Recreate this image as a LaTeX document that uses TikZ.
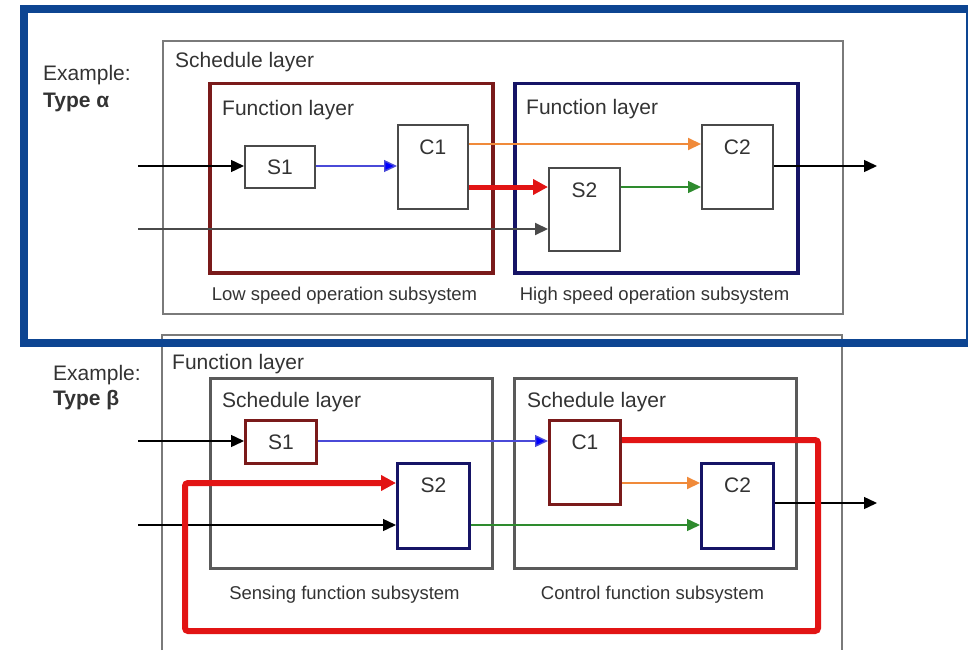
\documentclass[tikz,border=0pt]{standalone}
\usepackage{fontspec}
\setmainfont{Liberation Sans}
\usetikzlibrary{arrows.meta,calc}
\definecolor{frameblue}{HTML}{0D4592}
\definecolor{txtgray}{HTML}{333333}
\definecolor{layergray}{HTML}{7A7A7A}
\definecolor{innergray}{HTML}{5A5A5A}
\definecolor{boxgray}{HTML}{4A4A4A}
\definecolor{maroon}{HTML}{7A1A1A}
\definecolor{navy}{HTML}{161466}
\definecolor{sigred}{HTML}{E21414}
\definecolor{sigblue}{HTML}{4A4AD8}
\definecolor{sigorange}{HTML}{F08A3A}
\definecolor{siggreen}{HTML}{2E8B2E}
\definecolor{siggray}{HTML}{4A4A4A}
\begin{document}
\begin{tikzpicture}[x=1pt,y=-1pt,
  lbl/.style={inner sep=0, text=txtgray, font=\fontsize{21}{25}\selectfont},
  sublbl/.style={inner sep=0, text=txtgray, font=\fontsize{18.5}{22}\selectfont},
  layer/.style={draw=layergray, line width=2pt, inner sep=0, anchor=north west},
  inner layer/.style={draw=innergray, line width=2.5pt, inner sep=0, anchor=north west},
  blk/.style={draw=boxgray, line width=1.8pt, fill=white, inner sep=0, anchor=north west},
  sig/.style={-{Triangle[length=13pt,width=12pt]}, line width=1.4pt},
  bigsig/.style={-{Triangle[length=15pt,width=15pt]}, line width=5pt, draw=sigred}
]
\useasboundingbox (0,0) rectangle (968,650);

% ---------- Type alpha ----------
\node[layer, minimum width=680pt, minimum height=273pt] (aSched) at (162,40) {};
\node[lbl, anchor=base west] (aSchedT) at (175,68) {Schedule layer};
\node[lbl, anchor=base west] (aEx) at (43,81) {Example:};
\node[lbl, anchor=base west, font=\fontsize{21}{25}\selectfont\bfseries] (aType) at (43,107) {Type α};

\node[draw=maroon, line width=3.5pt, inner sep=0, anchor=north west,
      minimum width=283pt, minimum height=189pt] (aLow) at (208,82) {};
\node[draw=navy, line width=3.5pt, inner sep=0, anchor=north west,
      minimum width=283pt, minimum height=189pt] (aHigh) at (513,82) {};
\node[lbl, anchor=base west] (aLowT) at (222,115) {Function layer};
\node[lbl, anchor=base west] (aHighT) at (526,114) {Function layer};
\node[sublbl, anchor=base] (aLowSub) at (344.5,300) {Low speed operation subsystem};
\node[sublbl, anchor=base] (aHighSub) at (654.5,300) {High speed operation subsystem};

\node[blk, minimum width=70pt, minimum height=42pt] (aS1) at (244,145) {};
\node[lbl] (aS1t) at (aS1.center) {S1};
\node[blk, minimum width=70pt, minimum height=84pt] (aC1) at (397,124) {};
\node[lbl] (aC1t) at ($(aC1.north)+(0,23)$) {C1};
\node[blk, minimum width=71pt, minimum height=83pt] (aS2) at (548,167) {};
\node[lbl] (aS2t) at ($(aS2.north)+(0,23)$) {S2};
\node[blk, minimum width=71pt, minimum height=84pt] (aC2) at (701,124) {};
\node[lbl] (aC2t) at ($(aC2.north)+(0,23)$) {C2};

\coordinate (aIn1) at (138,166);
\coordinate (aIn2) at (138,229);
\coordinate (aOut) at (877,166);
\coordinate (aOr) at ($(aC1.north east)+(0,20)$);
\coordinate (aRd) at ($(aC1.north east)+(0,63)$);
\coordinate (aGr) at ($(aS2.north east)+(0,20)$);

\draw[sig, draw=black] (aIn1) -- (aS1.west |- aIn1);
\draw[sig, draw=sigblue, -{Triangle[length=13pt,width=12pt,fill=blue]}] (aS1.east |- aIn1) -- (aC1.west |- aIn1);
\draw[sig, draw=siggray, line width=2pt] (aIn2) -- (aS2.west |- aIn2);
\draw[sig, draw=sigorange, line width=2pt] (aOr) -- (aC2.west |- aOr);
\draw[bigsig] (aRd) -- (aS2.west |- aRd);
\draw[sig, draw=siggreen] (aGr) -- (aC2.west |- aGr);
\draw[sig, draw=black] (aC2.east |- aOut) -- (aOut);

% ---------- Type beta ----------
\draw[draw=layergray, line width=2pt] (162,650) |- (842,335) coordinate (bFun) -- (842,650);
\node[lbl, anchor=base west] (bFunT) at (172,369) {Function layer};
\node[lbl, anchor=base west] (bEx) at (53,380) {Example:};
\node[lbl, anchor=base west, font=\fontsize{21}{25}\selectfont\bfseries] (bType) at (53,405) {Type β};

\node[inner layer, minimum width=282pt, minimum height=190pt] (bSense) at (209,377) {};
\node[inner layer, minimum width=282pt, minimum height=190pt] (bCtrl) at (513,377) {};
\node[lbl, anchor=base west] (bSenseT) at (222,407) {Schedule layer};
\node[lbl, anchor=base west] (bCtrlT) at (527,407) {Schedule layer};
\node[sublbl, anchor=base] (bSenseSub) at (344.5,599) {Sensing function subsystem};
\node[sublbl, anchor=base] (bCtrlSub) at (652.5,599) {Control function subsystem};

\node[blk, draw=maroon, line width=3pt, minimum width=71pt, minimum height=43pt] (bS1) at (244,419) {};
\node[lbl] (bS1t) at (bS1.center) {S1};
\node[blk, draw=navy, line width=3pt, minimum width=72pt, minimum height=85pt] (bS2) at (396,462) {};
\node[lbl] (bS2t) at ($(bS2.north)+(0,23)$) {S2};
\node[blk, draw=maroon, line width=3pt, minimum width=71pt, minimum height=84pt] (bC1) at (548,419) {};
\node[lbl] (bC1t) at ($(bC1.north)+(0,23)$) {C1};
\node[blk, draw=navy, line width=3pt, minimum width=72pt, minimum height=85pt] (bC2) at (700,462) {};
\node[lbl] (bC2t) at ($(bC2.north)+(0,23)$) {C2};

\coordinate (bIn1) at (138,441);
\coordinate (bIn2) at (138,525);
\coordinate (bOut) at (877,503);
\coordinate (bOr) at ($(bC1.north east)+(0,64)$);
\coordinate (bFbA) at ($(bC1.north east)+(0,21)$);
\coordinate (bFbB) at (818,440);
\coordinate (bFbC) at (818,631);
\coordinate (bFbD) at (185,631);
\coordinate (bFbE) at (185,483);

\draw[sig, draw=black] (bIn1) -- (bS1.west |- bIn1);
\draw[sig, draw=sigblue, -{Triangle[length=13pt,width=12pt,fill=blue]}] (bS1.east |- bIn1) -- (bC1.west |- bIn1);
\draw[sig, draw=black] (bIn2) -- (bS2.west |- bIn2);
\draw[sig, draw=siggreen] (bS2.east |- bIn2) -- (bC2.west |- bIn2);
\draw[sig, draw=sigorange, line width=2pt] (bOr) -- (bC2.west |- bOr);
\draw[sig, draw=black] (bC2.east |- bOut) -- (bOut);
\draw[bigsig, line width=6pt, rounded corners=3pt]
  (bFbA) -- (bFbB) -- (bFbC) -- (bFbD) -- (bFbE) -- (bS2.west |- bFbE);

% ---------- highlight frame round Type alpha ----------
\draw[draw=frameblue, line width=8pt] (971,343) -- (24,343) -- (24,9) -- (971,9);
\draw[draw=frameblue, line width=2pt] (967,9) -- (967,343);
\end{tikzpicture}
\end{document}
